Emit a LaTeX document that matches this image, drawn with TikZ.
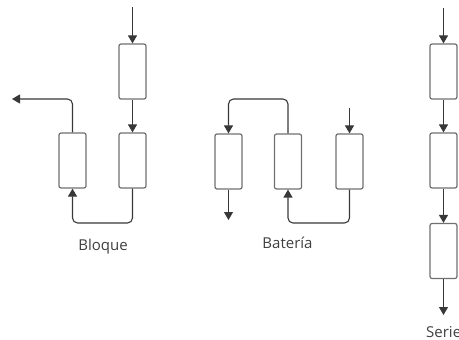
\documentclass[tikz,border=0pt]{standalone}
\usepackage{fontspec}
\setmainfont{Open Sans}
\usetikzlibrary{arrows.meta}
\definecolor{linec}{HTML}{383838}
\definecolor{boxc}{HTML}{707070}
\definecolor{labc}{HTML}{404040}
\begin{document}
\begin{tikzpicture}[x=1pt,y=-1pt,
  blk/.style={draw=boxc,line width=1.2pt,rounded corners=2pt,minimum width=27pt,minimum height=55pt,inner sep=0pt},
  flow/.style={draw=linec,line width=1.1pt,rounded corners=5pt,-{Triangle[width=9pt,length=8pt]}},
  lab/.style={font=\fontsize{15}{16}\selectfont,text=labc,inner sep=0pt}]
\useasboundingbox (0,0) rectangle (459,340);
% Bloque
\node[blk] (b1) at (132.5,71.5) {};
\node[blk] (b2) at (132.5,160.5) {};
\node[blk] (b3) at (72.5,160.5) {};
\coordinate (bin) at (132.5,7);
\coordinate (bout) at (12,99);
\draw[flow] (bin) -- (b1.north);
\draw[flow] (b1.south) -- (b2.north);
\draw[flow] (b2.south) -- (132.5,223) -- (72.5,223) -- (b3.south);
\draw[flow] (b3.north) -- (72.5,99) -- (bout);
\node[lab,anchor=base] (lb) at (103,250) {Bloque};
% Bateria
\node[blk] (c1) at (228.5,161.5) {};
\node[blk] (c2) at (288,161.5) {};
\node[blk] (c3) at (349.5,161.5) {};
\coordinate (cin) at (349.5,108);
\coordinate (cout) at (228.5,220);
\draw[flow] (c2.north) -- (288,99) -- (228.5,99) -- (c1.north);
\draw[flow] (cin) -- (c3.north);
\draw[flow] (c1.south) -- (cout);
\draw[flow] (c3.south) -- (349.5,223) -- (288,223) -- (c2.south);
\node[lab,anchor=base] (lc) at (287.5,248) {Batería};
% Serie
\node[blk] (s1) at (443.5,71.5) {};
\node[blk] (s2) at (443.5,160.5) {};
\node[blk] (s3) at (443.5,251) {};
\coordinate (sin) at (443.5,8);
\coordinate (sout) at (443.5,315);
\draw[flow] (sin) -- (s1.north);
\draw[flow] (s1.south) -- (s2.north);
\draw[flow] (s2.south) -- (s3.north);
\draw[flow] (s3.south) -- (sout);
\node[lab,anchor=base west] (ls) at (426,337) {Serie};
\end{tikzpicture}
\end{document}
